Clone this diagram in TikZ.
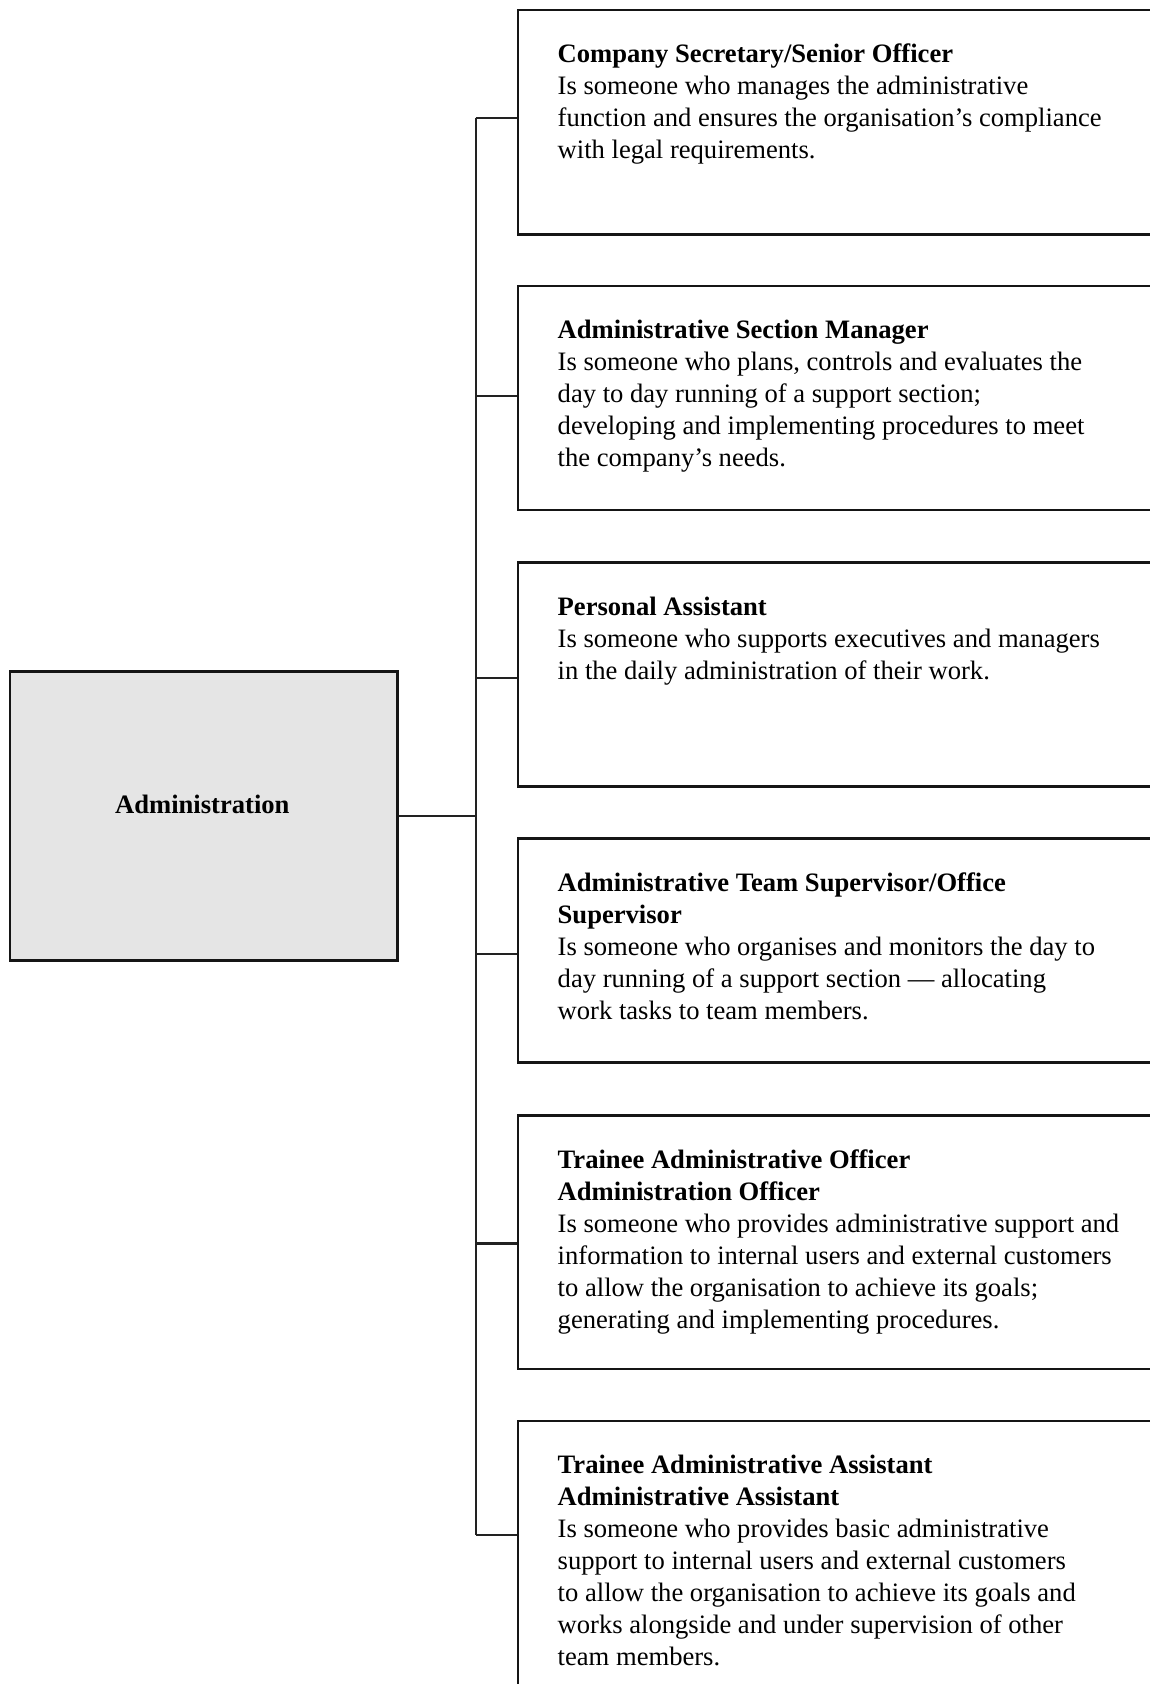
\documentclass[tikz,border=0pt]{standalone}
\usepackage{fontspec}
\setmainfont{Liberation Serif}
\definecolor{adminfill}{HTML}{E5E5E5}
\definecolor{edge}{HTML}{151515}
\definecolor{wire}{HTML}{222222}
\begin{document}
\begin{tikzpicture}[x=1pt,y=-1pt,
  rolebox/.style={draw=edge, line width=2.8pt, minimum width=800pt, anchor=north west, inner sep=0pt},
  conn/.style={draw=wire, line width=2.2pt},
  desc/.style={anchor=base west, align=left, inner sep=0pt, font=\fontsize{26.6}{32}\selectfont},
]
\clip (0,0) rectangle (1150,1684);
\fill[white] (0,0) rectangle (1150,1684);

% left box
\node[draw=edge, line width=2.8pt, fill=adminfill, anchor=north west, inner sep=0pt,
      minimum width=387.4pt, minimum height=289pt] (admin) at (8.6,670) {};
\node[anchor=base, inner sep=0pt, font=\fontsize{26.6}{32}\selectfont\bfseries] (adminlabel) at (202.3,813) {Administration};

% role boxes
\node[rolebox, minimum height=224.3pt] (b1) at (516.5,8.6) {};
\node[rolebox, minimum height=224pt] (b2) at (516.5,284.6) {};
\node[rolebox, minimum height=223.6pt] (b3) at (516.5,561.4) {};
\node[rolebox, minimum height=224.2pt] (b4) at (516.5,837.2) {};
\node[rolebox, minimum height=253.5pt] (b5) at (516.5,1114) {};
\node[rolebox, minimum height=320pt] (b6) at (516.5,1419.6) {};

% texts (base anchor = baseline of the last line)
\node[desc] (t1) at (557.5,158.6) {\textbf{Company Secretary/Senior Officer}\\
Is someone who manages the administrative\\
function and ensures the organisation’s compliance\\
with legal requirements.};
\node[desc] (t2) at (557.5,466.6) {\textbf{Administrative Section Manager}\\
Is someone who plans, controls and evaluates the\\
day to day running of a support section;\\
developing and implementing procedures to meet\\
the company’s needs.};
\node[desc] (t3) at (557.5,679.4) {\textbf{Personal Assistant}\\
Is someone who supports executives and managers\\
in the daily administration of their work.};
\node[desc] (t4) at (557.5,1019.2) {\textbf{Administrative Team Supervisor/Office}\\
\textbf{Supervisor}\\
Is someone who organises and monitors the day to\\
day running of a support section — allocating\\
work tasks to team members.};
\node[desc] (t5) at (557.5,1328) {\textbf{Trainee Administrative Officer}\\
\textbf{Administration Officer}\\
Is someone who provides administrative support and\\
information to internal users and external customers\\
to allow the organisation to achieve its goals;\\
generating and implementing procedures.};
\node[desc] (t6) at (557.5,1665.6) {\textbf{Trainee Administrative Assistant}\\
\textbf{Administrative Assistant}\\
Is someone who provides basic administrative\\
support to internal users and external customers\\
to allow the organisation to achieve its goals and\\
works alongside and under supervision of other\\
team members.};

% junctions on the trunk
\coordinate (j1) at (475.7,117.9);
\coordinate (j2) at (475.7,396);
\coordinate (j3) at (475.7,677.9);
\coordinate (j4) at (475.7,954);
\coordinate (j5) at (475.7,1243.4);
\coordinate (j6) at (475.7,1534.7);

% connectors
\draw[conn] (j1) -- (j6);
\draw[conn] (admin.east) -- (admin.east -| j1);
\draw[conn] (j1) -- (j1 -| b1.west);
\draw[conn] (j2) -- (j2 -| b2.west);
\draw[conn] (j3) -- (j3 -| b3.west);
\draw[conn] (j4) -- (j4 -| b4.west);
\draw[conn] (j5) -- (j5 -| b5.west);
\draw[conn] (j6) -- (j6 -| b6.west);
\end{tikzpicture}
\end{document}
